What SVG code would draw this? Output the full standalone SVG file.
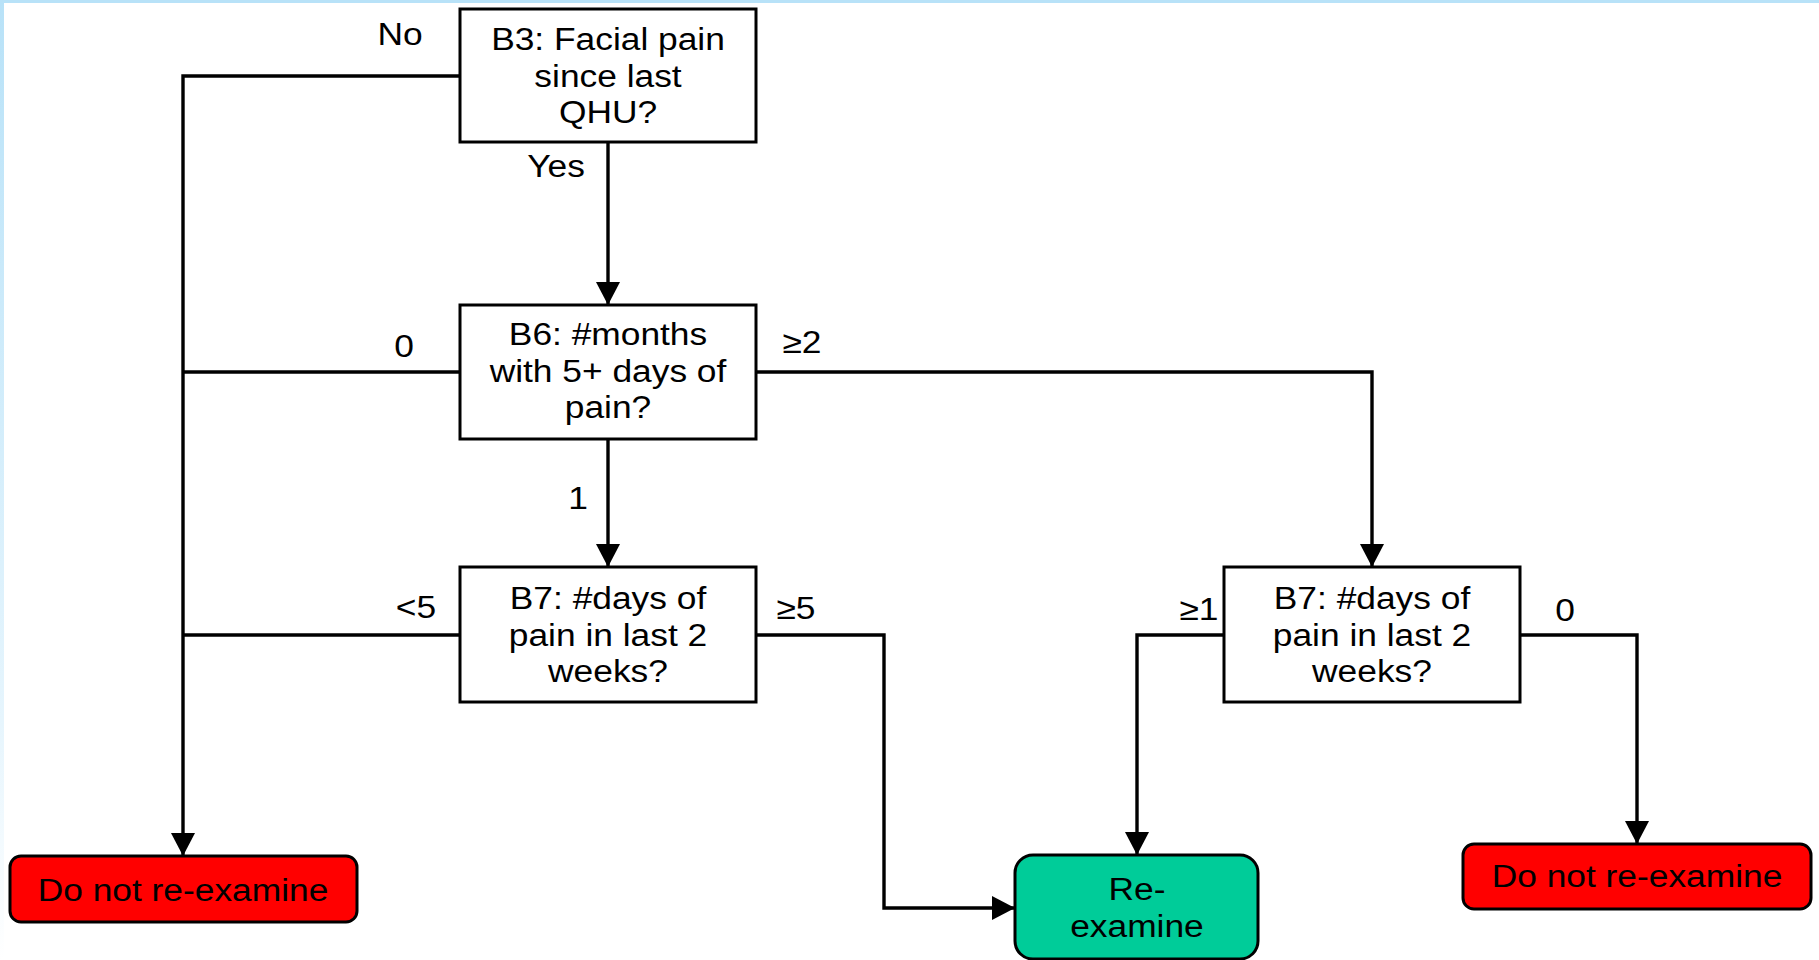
<svg xmlns="http://www.w3.org/2000/svg" width="1819" height="960" viewBox="0 0 1819 960">
<defs>
<linearGradient id="lb" x1="0" y1="0" x2="0" y2="1">
<stop offset="0" stop-color="#b8e2f8"/>
<stop offset="0.75" stop-color="#e6f5fd"/>
<stop offset="1" stop-color="#ffffff"/>
</linearGradient>
<marker id="ah" markerUnits="userSpaceOnUse" markerWidth="24" markerHeight="24" refX="23" refY="12" orient="auto" viewBox="0 0 24 24">
<path d="M0,0 L23,12 L0,24 z" fill="#000"/>
</marker>
<style>
.box{fill:#fff;stroke:#000;stroke-width:3}
.red{fill:#ff0000;stroke:#000;stroke-width:3}
.grn{fill:#00cc99;stroke:#000;stroke-width:3}
.c{fill:none;stroke:#000;stroke-width:3.4}
.a{marker-end:url(#ah)}
text{font-family:"Liberation Sans",Arial,sans-serif;font-size:31px;fill:#000;text-anchor:middle}
</style>
</defs>
<rect x="0" y="0" width="1819" height="960" fill="#fff"/>
<rect x="0" y="0" width="1819" height="3" fill="#b8e2f8"/>
<rect x="0" y="0" width="4" height="960" fill="url(#lb)"/>

<g id="connectors">
<path class="c a" d="M460,76 H183 V856"/>
<path class="c" d="M460,372 H183"/>
<path class="c" d="M460,635 H183"/>
<path class="c a" d="M608,142 V305"/>
<path class="c a" d="M608,439 V567"/>
<path class="c a" d="M756,372 H1372 V567"/>
<path class="c a" d="M756,635 H884 V908 H1015"/>
<path class="c a" d="M1224,635 H1137 V855"/>
<path class="c a" d="M1520,635 H1637 V844"/>
<g id="labels">
<text transform="translate(400,45) scale(1.14,1)">No</text>
<text transform="translate(556,177) scale(1.14,1)">Yes</text>
<text transform="translate(404,357) scale(1.14,1)">0</text>
<text transform="translate(802,353) scale(1.14,1)">≥2</text>
<text transform="translate(578,509) scale(1.14,1)">1</text>
<text transform="translate(416,618) scale(1.14,1)">&lt;5</text>
<text transform="translate(796,619) scale(1.14,1)">≥5</text>
<text transform="translate(1199,620) scale(1.14,1)">≥1</text>
<text transform="translate(1565,621) scale(1.14,1)">0</text>
</g>
</g>

<g id="b3">
<rect class="box" x="460" y="9" width="296" height="133"/>
<text transform="translate(608,50) scale(1.14,1)"><tspan x="0" y="0">B3: Facial pain</tspan><tspan x="0" y="36.7">since last</tspan><tspan x="0" y="73.4">QHU?</tspan></text>
</g>

<g id="b6">
<rect class="box" x="460" y="305" width="296" height="134"/>
<text transform="translate(608,345) scale(1.14,1)"><tspan x="0" y="0">B6: #months</tspan><tspan x="0" y="36.7">with 5+ days of</tspan><tspan x="0" y="73.4">pain?</tspan></text>
</g>

<g id="b7left">
<rect class="box" x="460" y="567" width="296" height="135"/>
<text transform="translate(608,609) scale(1.14,1)"><tspan x="0" y="0">B7: #days of</tspan><tspan x="0" y="36.7">pain in last 2</tspan><tspan x="0" y="73.4">weeks?</tspan></text>
</g>

<g id="b7right">
<rect class="box" x="1224" y="567" width="296" height="135"/>
<text transform="translate(1372,609) scale(1.14,1)"><tspan x="0" y="0">B7: #days of</tspan><tspan x="0" y="36.7">pain in last 2</tspan><tspan x="0" y="73.4">weeks?</tspan></text>
</g>

<g id="dontleft">
<rect class="red" x="10" y="856" width="347" height="66" rx="11" ry="11"/>
<text transform="translate(183,900.5) scale(1.14,1)">Do not re-examine</text>
</g>

<g id="reexamine">
<rect class="grn" x="1015" y="855" width="243" height="104" rx="18" ry="18"/>
<text transform="translate(1137,900) scale(1.14,1)"><tspan x="0" y="0">Re-</tspan><tspan x="0" y="36.7">examine</tspan></text>
</g>

<g id="dontright">
<rect class="red" x="1463" y="844" width="348" height="65" rx="11" ry="11"/>
<text transform="translate(1637,886.5) scale(1.14,1)">Do not re-examine</text>
</g>
</svg>
